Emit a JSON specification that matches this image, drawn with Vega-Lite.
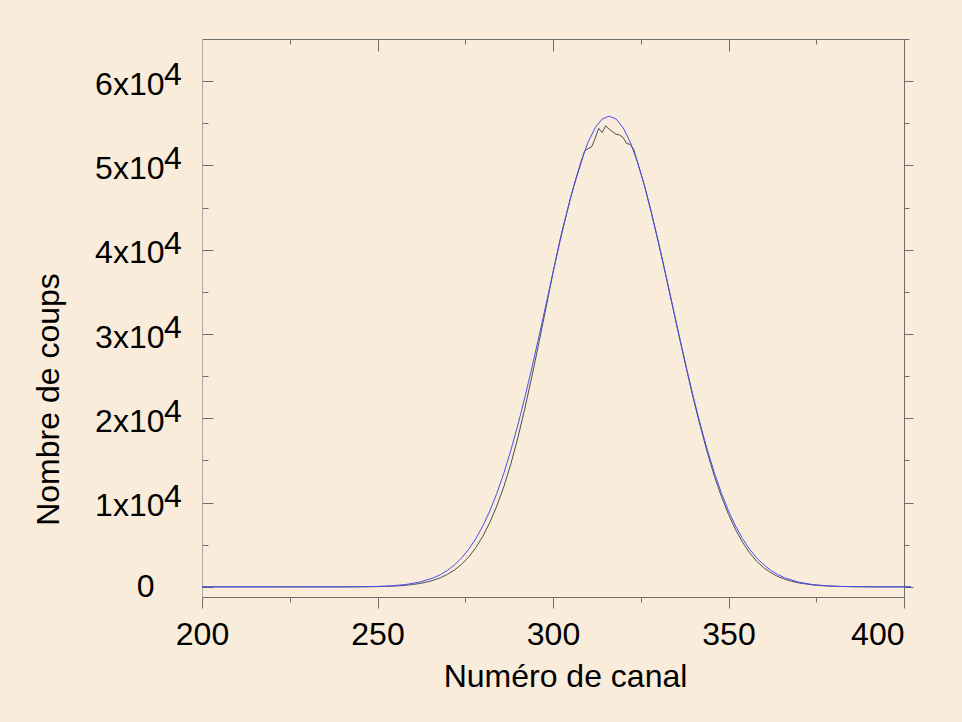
{
  "$schema": "https://vega.github.io/schema/vega-lite/v6.json",
  "width": 702,
  "height": 558,
  "autosize": {"type": "none"},
  "padding": {"left": 202, "top": 39, "right": 58, "bottom": 125},
  "background": "#f9ecdb",
  "config": {
    "view": {"stroke": null},
    "font": "Liberation Sans",
    "axis": {"labelFont": "Liberation Sans", "titleFont": "Liberation Sans", "labelColor": "#000000", "titleColor": "#000000", "titleFontWeight": "normal", "grid": false, "tickColor": "#6e6e6e", "domainColor": "#6e6e6e", "tickWidth": 1, "domainWidth": 1}
  },
  "datasets": {
    "fit": [
      {"x": 200, "y": 0}, {"x": 220, "y": 0}, {"x": 240, "y": 6}, {"x": 246, "y": 24}, {"x": 250, "y": 58}, {"x": 254, "y": 130}, {"x": 258, "y": 276}, {"x": 262, "y": 560}, {"x": 266, "y": 1081}, {"x": 268, "y": 1472}, {"x": 270, "y": 1981}, {"x": 272, "y": 2632}, {"x": 274, "y": 3452}, {"x": 276, "y": 4472}, {"x": 278, "y": 5721}, {"x": 280, "y": 7225}, {"x": 282, "y": 9011}, {"x": 284, "y": 11097}, {"x": 286, "y": 13496}, {"x": 288, "y": 16208}, {"x": 290, "y": 19220}, {"x": 292, "y": 22505}, {"x": 294, "y": 26021}, {"x": 296, "y": 29709}, {"x": 298, "y": 33494}, {"x": 300, "y": 37289}, {"x": 302, "y": 40993}, {"x": 304, "y": 44499}, {"x": 306, "y": 47697}, {"x": 308, "y": 50485}, {"x": 310, "y": 52766}, {"x": 312, "y": 54458}, {"x": 314, "y": 55500}, {"x": 316, "y": 55850}, {"x": 318, "y": 55500}, {"x": 320, "y": 54458}, {"x": 322, "y": 52766}, {"x": 324, "y": 50485}, {"x": 326, "y": 47697}, {"x": 328, "y": 44499}, {"x": 330, "y": 40993}, {"x": 332, "y": 37289}, {"x": 334, "y": 33494}, {"x": 336, "y": 29709}, {"x": 338, "y": 26021}, {"x": 340, "y": 22505}, {"x": 342, "y": 19220}, {"x": 344, "y": 16208}, {"x": 346, "y": 13496}, {"x": 348, "y": 11097}, {"x": 350, "y": 9011}, {"x": 352, "y": 7225}, {"x": 354, "y": 5721}, {"x": 356, "y": 4472}, {"x": 358, "y": 3452}, {"x": 360, "y": 2632}, {"x": 362, "y": 1981}, {"x": 364, "y": 1472}, {"x": 366, "y": 1081}, {"x": 370, "y": 560}, {"x": 374, "y": 276}, {"x": 378, "y": 130}, {"x": 382, "y": 58}, {"x": 386, "y": 24}, {"x": 392, "y": 6}, {"x": 400, "y": 0}, {"x": 402, "y": 0}
    ],
    "mesure": [
      {"x": 200, "y": 0}, {"x": 210, "y": 0}, {"x": 220, "y": 0}, {"x": 230, "y": 0}, {"x": 240, "y": 2}, {"x": 244, "y": 8}, {"x": 248, "y": 22}, {"x": 252, "y": 55}, {"x": 256, "y": 125}, {"x": 258, "y": 190}, {"x": 260, "y": 280}, {"x": 262, "y": 400}, {"x": 264, "y": 570}, {"x": 266, "y": 800}, {"x": 268, "y": 1100}, {"x": 270, "y": 1500}, {"x": 272, "y": 2020}, {"x": 274, "y": 2700}, {"x": 276, "y": 3560}, {"x": 278, "y": 4650}, {"x": 280, "y": 6000}, {"x": 282, "y": 7650}, {"x": 284, "y": 9600}, {"x": 286, "y": 11900}, {"x": 288, "y": 14600}, {"x": 290, "y": 17700}, {"x": 292, "y": 21200}, {"x": 294, "y": 25000}, {"x": 296, "y": 29000}, {"x": 298, "y": 33100}, {"x": 300, "y": 37300}, {"x": 302, "y": 41200}, {"x": 303, "y": 42900}, {"x": 304, "y": 44500}, {"x": 305, "y": 46200}, {"x": 306, "y": 47600}, {"x": 307, "y": 49000}, {"x": 308, "y": 50300}, {"x": 309, "y": 51700}, {"x": 310, "y": 52000}, {"x": 311, "y": 52200}, {"x": 312, "y": 53200}, {"x": 313, "y": 54400}, {"x": 314, "y": 53900}, {"x": 315, "y": 54700}, {"x": 316, "y": 54300}, {"x": 317, "y": 54000}, {"x": 318, "y": 53700}, {"x": 319, "y": 53600}, {"x": 320, "y": 53300}, {"x": 321, "y": 52600}, {"x": 322, "y": 52500}, {"x": 323, "y": 51900}, {"x": 324, "y": 50500}, {"x": 326, "y": 47700}, {"x": 328, "y": 44400}, {"x": 330, "y": 40900}, {"x": 332, "y": 37200}, {"x": 334, "y": 33400}, {"x": 336, "y": 29600}, {"x": 338, "y": 25900}, {"x": 340, "y": 22300}, {"x": 342, "y": 19000}, {"x": 344, "y": 15900}, {"x": 346, "y": 13100}, {"x": 348, "y": 10700}, {"x": 350, "y": 8600}, {"x": 352, "y": 6800}, {"x": 354, "y": 5300}, {"x": 356, "y": 4050}, {"x": 358, "y": 3050}, {"x": 360, "y": 2280}, {"x": 362, "y": 1700}, {"x": 364, "y": 1250}, {"x": 366, "y": 910}, {"x": 368, "y": 660}, {"x": 370, "y": 470}, {"x": 374, "y": 230}, {"x": 378, "y": 105}, {"x": 382, "y": 45}, {"x": 386, "y": 18}, {"x": 392, "y": 5}, {"x": 396, "y": 0}, {"x": 400, "y": 0}, {"x": 402, "y": 0}
    ],
    "yticks": [
      {"v": 10000}, {"v": 20000}, {"v": 30000}, {"v": 40000}, {"v": 50000}, {"v": 60000}
    ]
  },
  "layer": [
    {
      "data": {"name": "mesure"},
      "mark": {"type": "line", "color": "#4d4d4d", "strokeWidth": 1},
      "encoding": {
        "x": {
          "field": "x", "type": "quantitative",
          "scale": {"domain": [200, 400], "nice": false, "zero": false},
          "axis": {
            "orient": "bottom",
            "values": [200, 225, 250, 275, 300, 325, 350, 375, 400],
            "labelExpr": "datum.value % 50 === 0 ? datum.label : ''",
            "labelFontSize": 32,
            "labelAngle": 0,
            "labelBaseline": "middle",
            "labelAlign": {"condition": {"test": "datum.value === 400", "value": "right"}, "value": "center"},
            "labelPadding": 26,
            "tickSize": {"condition": {"test": "datum.value % 50 === 0", "value": 11}, "value": 5},
            "title": "Numéro de canal",
            "titleFontSize": 32,
            "titleX": 363,
            "titleY": 79,
            "titleAlign": "center",
            "titleBaseline": "middle"
          }
        },
        "y": {
          "field": "y", "type": "quantitative",
          "scale": {"domain": [-1200, 65000], "nice": false, "zero": false},
          "axis": {
            "orient": "left",
            "values": [0, 5000, 10000, 15000, 20000, 25000, 30000, 35000, 40000, 45000, 50000, 55000, 60000, 65000],
            "labelExpr": "datum.value === 0 ? '0' : (datum.value % 10000 === 0 ? (datum.value / 10000) + 'x10' : '')",
            "labelFontSize": 32,
            "labelAlign": "right",
            "labelBaseline": "middle",
            "labelPadding": {"condition": {"test": "datum.value === 0", "value": 59}, "value": 49},
            "labelOffset": {"condition": {"test": "datum.value === 0", "value": 0}, "value": 3},
            "tickSize": {"condition": {"test": "datum.value % 10000 === 0", "value": -11}, "value": -6},
            "domainColor": "#a8a8a8",
            "title": "Nombre de coups",
            "titleFontSize": 32,
            "titleX": -154,
            "titleY": 360,
            "titleAlign": "center",
            "titleBaseline": "middle"
          }
        }
      }
    },
    {
      "data": {"name": "fit"},
      "mark": {"type": "line", "color": "#4b4bf0", "strokeWidth": 1},
      "encoding": {
        "x": {
          "field": "x", "type": "quantitative",
          "axis": {
            "orient": "top",
            "values": [200, 225, 250, 275, 300, 325, 350, 375, 400],
            "labels": false,
            "tickSize": {"condition": {"test": "datum.value % 50 === 0", "value": -12}, "value": -5},
            "title": null
          }
        },
        "y": {
          "field": "y", "type": "quantitative",
          "axis": {
            "orient": "right",
            "values": [0, 5000, 10000, 15000, 20000, 25000, 30000, 35000, 40000, 45000, 50000, 55000, 60000, 65000],
            "labels": false,
            "tickSize": {"condition": {"test": "datum.value % 10000 === 0", "value": 9}, "value": 5},
            "title": null
          }
        }
      }
    },
    {
      "data": {"name": "yticks"},
      "mark": {"type": "text", "align": "left", "baseline": "middle", "dx": -38, "dy": -6, "fontSize": 32, "font": "Liberation Sans", "color": "#000000"},
      "encoding": {
        "x": {"datum": 200, "type": "quantitative", "axis": null},
        "y": {"field": "v", "type": "quantitative", "axis": null},
        "text": {"value": "4"}
      }
    }
  ],
  "resolve": {"axis": {"x": "independent", "y": "independent"}}
}
